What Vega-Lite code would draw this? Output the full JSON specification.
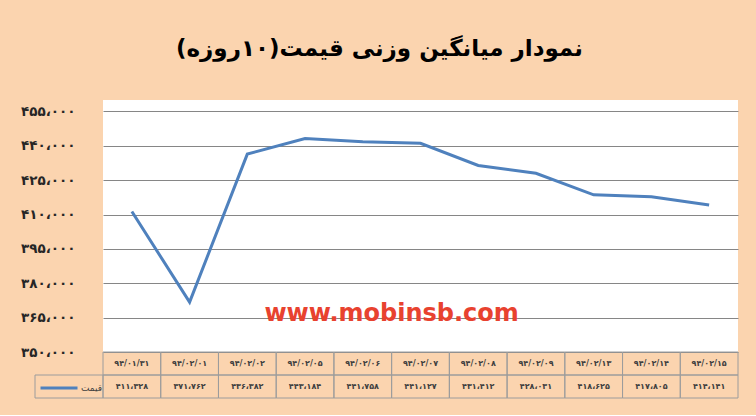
{
  "$schema": "https://vega.github.io/schema/vega-lite/v6.json",
  "background": "#FBD4AF",
  "padding": {"left": 20, "top": 38, "right": 18, "bottom": 16},
  "title": {
    "text": "‏نمودار میانگین وزنی قیمت(۱۰روزه)‏",
    "font": "DejaVu Sans",
    "fontSize": 23,
    "fontWeight": "bold",
    "color": "black",
    "anchor": "middle",
    "offset": 39
  },
  "config": {"view": {"stroke": null}},
  "data": {
    "values": [
      {"date": "۹۴/۰۱/۳۱", "price": 411328, "label": "۴۱۱،۳۲۸"},
      {"date": "۹۴/۰۲/۰۱", "price": 371762, "label": "۳۷۱،۷۶۲"},
      {"date": "۹۴/۰۲/۰۲", "price": 436382, "label": "۴۳۶،۳۸۲"},
      {"date": "۹۴/۰۲/۰۵", "price": 443184, "label": "۴۴۳،۱۸۴"},
      {"date": "۹۴/۰۲/۰۶", "price": 441758, "label": "۴۴۱،۷۵۸"},
      {"date": "۹۴/۰۲/۰۷", "price": 441127, "label": "۴۴۱،۱۲۷"},
      {"date": "۹۴/۰۲/۰۸", "price": 431412, "label": "۴۳۱،۴۱۲"},
      {"date": "۹۴/۰۲/۰۹", "price": 428031, "label": "۴۲۸،۰۳۱"},
      {"date": "۹۴/۰۲/۱۳", "price": 418625, "label": "۴۱۸،۶۲۵"},
      {"date": "۹۴/۰۲/۱۴", "price": 417805, "label": "۴۱۷،۸۰۵"},
      {"date": "۹۴/۰۲/۱۵", "price": 414141, "label": "۴۱۴،۱۴۱"}
    ]
  },
  "columns": 2,
  "spacing": 0,
  "bounds": "flush",
  "resolve": {"scale": {"color": "independent"}, "legend": {"color": "independent"}},
  "concat": [
    {
      "width": 68,
      "height": 252,
      "data": {"values": [{}]},
      "mark": {"type": "text", "text": ""},
      "encoding": {}
    },
    {
      "width": 635,
      "height": 252,
      "view": {"fill": "white", "stroke": null},
      "layer": [
        {
          "mark": {"type": "line", "strokeWidth": 3, "color": "#4F81BD"},
          "encoding": {
            "x": {
              "field": "date",
              "type": "nominal",
              "bandPosition": 0.5,
              "scale": {
                "type": "band",
                "domain": ["۹۴/۰۱/۳۱", "۹۴/۰۲/۰۱", "۹۴/۰۲/۰۲", "۹۴/۰۲/۰۵", "۹۴/۰۲/۰۶", "۹۴/۰۲/۰۷", "۹۴/۰۲/۰۸", "۹۴/۰۲/۰۹", "۹۴/۰۲/۱۳", "۹۴/۰۲/۱۴", "۹۴/۰۲/۱۵"],
                "paddingInner": 0,
                "paddingOuter": 0
              },
              "axis": null
            },
            "y": {
              "field": "price",
              "type": "quantitative",
              "scale": {"domain": [350000, 460000], "nice": false, "zero": false},
              "axis": {
                "title": null,
                "values": [350000, 365000, 380000, 395000, 410000, 425000, 440000, 455000],
                "tickCount": 20,
                "labelOverlap": false,
                "domain": false,
                "ticks": false,
                "grid": true,
                "gridColor": "#868686",
                "gridWidth": 1,
                "labelPadding": 28,
                "labelFont": "DejaVu Sans",
                "labelFontSize": 13.5,
                "labelFontWeight": "bold",
                "labelColor": "#262626",
                "labelExpr": "replace(replace(replace(replace(replace(replace(replace(replace(replace(replace(format(datum.value / 1000, 'd'), regexp('0', 'g'), '۰'), regexp('1', 'g'), '۱'), regexp('2', 'g'), '۲'), regexp('3', 'g'), '۳'), regexp('4', 'g'), '۴'), regexp('5', 'g'), '۵'), regexp('6', 'g'), '۶'), regexp('7', 'g'), '۷'), regexp('8', 'g'), '۸'), regexp('9', 'g'), '۹') + '،۰۰۰'"
              }
            }
          }
        },
        {
          "data": {"values": [{}]},
          "mark": {
            "type": "text",
            "text": "www.mobinsb.com",
            "font": "DejaVu Sans",
            "fontSize": 24,
            "fontWeight": "bold",
            "color": "#E8422F",
            "align": "center",
            "baseline": "middle"
          },
          "encoding": {
            "x": {"datum": "۹۴/۰۲/۰۶", "type": "nominal", "bandPosition": 1},
            "y": {"datum": 366500, "type": "quantitative"}
          }
        }
      ]
    },
    {
      "width": 68,
      "height": 46,
      "data": {"values": [{"row": "label"}]},
      "encoding": {
        "y": {
          "field": "row",
          "type": "nominal",
          "scale": {"domain": ["date", "label"], "paddingInner": 0, "paddingOuter": 0},
          "axis": null
        }
      },
      "layer": [
        {"mark": {"type": "rect", "fill": "transparent", "stroke": "#9C9C9C", "strokeWidth": 1}},
        {
          "mark": {"type": "point", "opacity": 0},
          "encoding": {
            "color": {
              "datum": "قیمت",
              "type": "nominal",
              "scale": {"range": ["#4F81BD"]},
              "legend": {
                "title": null,
                "orient": "bottom-left",
                "offset": 0,
                "padding": 4,
                "symbolType": "stroke",
                "symbolSize": 1369,
                "symbolStrokeWidth": 3,
                "symbolOpacity": 1,
                "labelFont": "DejaVu Sans",
                "labelFontSize": 9,
                "labelColor": "#404040",
                "labelOffset": 2
              }
            }
          }
        }
      ]
    },
    {
      "width": 635,
      "height": 46,
      "transform": [{"fold": ["date", "label"], "as": ["row", "text"]}],
      "encoding": {
        "x": {
          "field": "date",
          "type": "nominal",
          "scale": {
            "domain": ["۹۴/۰۱/۳۱", "۹۴/۰۲/۰۱", "۹۴/۰۲/۰۲", "۹۴/۰۲/۰۵", "۹۴/۰۲/۰۶", "۹۴/۰۲/۰۷", "۹۴/۰۲/۰۸", "۹۴/۰۲/۰۹", "۹۴/۰۲/۱۳", "۹۴/۰۲/۱۴", "۹۴/۰۲/۱۵"],
            "paddingInner": 0,
            "paddingOuter": 0
          },
          "axis": null
        },
        "y": {
          "field": "row",
          "type": "nominal",
          "scale": {"domain": ["date", "label"], "paddingInner": 0, "paddingOuter": 0},
          "axis": null
        }
      },
      "layer": [
        {"mark": {"type": "rect", "fill": "transparent", "stroke": "#9C9C9C", "strokeWidth": 1}},
        {
          "mark": {"type": "text", "font": "DejaVu Sans", "fontSize": 8, "fontWeight": "bold", "color": "#404040"},
          "encoding": {"text": {"field": "text"}}
        }
      ]
    }
  ]
}
